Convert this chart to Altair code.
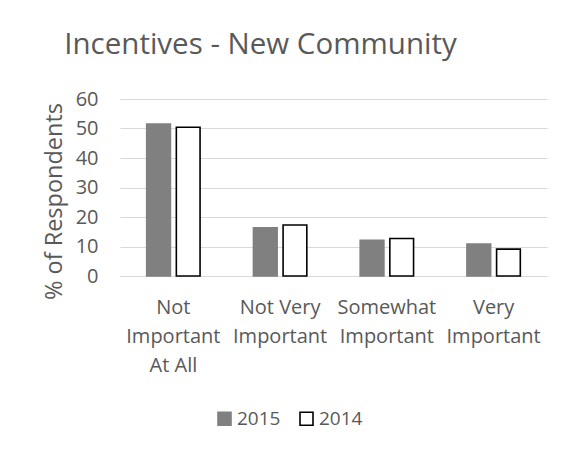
import altair as alt
import pandas as pd

categories = ["Not\nImportant\nAt All", "Not Very\nImportant", "Somewhat\nImportant", "Very\nImportant"]
years = ["2015", "2014"]
values_2015 = [51.5, 16.3, 12.1, 10.8]
values_2014 = [50.4, 17.3, 12.7, 9.1]

rows = []
for c, v in zip(categories, values_2015):
    rows.append({"category": c, "year": "2015", "value": v})
for c, v in zip(categories, values_2014):
    rows.append({"category": c, "year": "2014", "value": v})
df = pd.DataFrame(rows)

FONT = "Open Sans"
TXT = "#595959"

legend = alt.Legend(title=None, orient="none", direction="horizontal",
                    legendX=95, legendY=310, symbolType="square",
                    symbolSize=169, labelFontSize=19, labelColor=TXT,
                    labelFont=FONT, labelOffset=3, columnPadding=15,
                    symbolStrokeWidth=1.6, padding=0)

chart = alt.Chart(df).mark_bar(strokeWidth=1.6).encode(
    x=alt.X("category:N", sort=categories,
            scale=alt.Scale(paddingInner=0.5, paddingOuter=0.25),
            axis=alt.Axis(title=None, labelAngle=0, labelExpr="split(datum.label, '\\n')",
                          labelFontSize=20, labelColor=TXT, labelFont=FONT,
                          labelLineHeight=29, labelPadding=21, labelBaseline="top",
                          ticks=False, domain=True, domainColor="#d9d9d9")),
    xOffset=alt.XOffset("year:N", sort=years, scale=alt.Scale(paddingInner=0.2)),
    y=alt.Y("value:Q", scale=alt.Scale(domain=[0, 60]),
            axis=alt.Axis(title="% of Respondents", values=[0, 10, 20, 30, 40, 50, 60],
                          labelFontSize=20, labelColor=TXT, labelFont=FONT, labelPadding=22,
                          titleFontSize=23.5, titleColor=TXT, titleFont=FONT, titleFontWeight="normal",
                          titlePadding=9, titleY=102,
                          ticks=False, domain=False, gridColor="#d9d9d9", gridWidth=1.2)),
    fill=alt.Fill("year:N", sort=years,
                  scale=alt.Scale(domain=years, range=["#808080", "#ffffff"]),
                  legend=legend),
    stroke=alt.Stroke("year:N", sort=years,
                      scale=alt.Scale(domain=years, range=["#808080", "#000000"]),
                      legend=legend),
).properties(
    width=427, height=177,
    title=alt.TitleParams("Incentives - New Community", fontSize=29.5, font=FONT,
                          color=TXT, fontWeight="normal", anchor="middle", dx=-73, dy=37,
                          baseline="alphabetic", offset=43),
    autosize=alt.AutoSizeParams(type="none"),
    padding={"left": 112, "top": 91, "right": 24, "bottom": 171},
    background="white",
).configure_view(stroke=None)

chart.save("out.html", embed_options={"renderer": "svg", "actions": False})
